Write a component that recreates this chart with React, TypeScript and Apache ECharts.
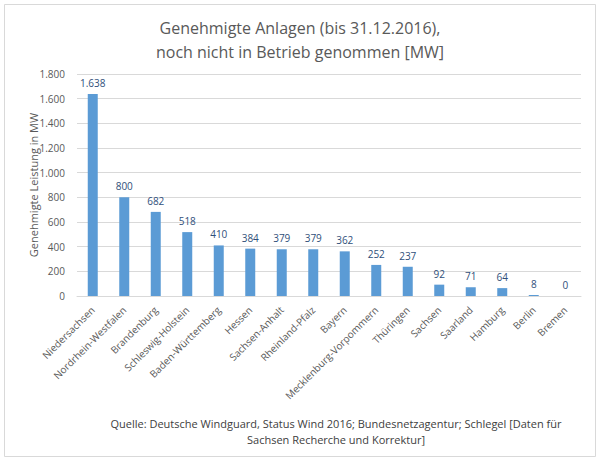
import React, { useEffect, useRef } from "react";
import * as echarts from "echarts";

const categories = [
  "Niedersachsen", "Nordrhein-Westfalen", "Brandenburg", "Schleswig-Holstein",
  "Baden-Württemberg", "Hessen", "Sachsen-Anhalt", "Rheinland-Pfalz", "Bayern",
  "Mecklenburg-Vorpommern", "Thüringen", "Sachsen", "Saarland", "Hamburg", "Berlin", "Bremen",
];
const values = [1638, 800, 682, 518, 410, 384, 379, 379, 362, 252, 237, 92, 71, 64, 8, 0];
const titleLines = ["Genehmigte Anlagen (bis 31.12.2016),", "noch nicht in Betrieb genommen [MW]"];
const yAxisName = "Genehmigte Leistung in MW";
const sourceLines = [
  "Quelle: Deutsche Windguard, Status Wind 2016; Bundesnetzagentur; Schlegel [Daten für",
  "Sachsen Recherche und Korrektur]",
];

const fmt = (v: number) => String(v).replace(/\B(?=(\d{3})+(?!\d))/g, ".");
const FONT = "'Open Sans', 'Noto Sans', sans-serif";

export default function App() {
  const ref = useRef<HTMLDivElement>(null);
  useEffect(() => {
    const chart = echarts.init(ref.current!, null, { renderer: "svg" });
    chart.setOption({
      animation: false,
      backgroundColor: "#ffffff",
      textStyle: { fontFamily: FONT },
      title: {
        text: titleLines.join("\n"),
        left: "center",
        top: 11,
        textStyle: { fontSize: 16, fontWeight: "normal", color: "#595959", lineHeight: 24, fontFamily: FONT },
      },
      grid: { left: 77, right: 19, top: 74, bottom: 166, containLabel: false },
      xAxis: {
        type: "category",
        data: categories,
        axisLine: { lineStyle: { color: "#d9d9d9" } },
        axisTick: { show: false },
        axisLabel: { rotate: 45, color: "#595959", fontSize: 10, interval: 0, margin: 12, fontFamily: FONT },
      },
      yAxis: {
        type: "value",
        min: 0,
        max: 1800,
        interval: 200,
        name: yAxisName,
        nameLocation: "middle",
        nameGap: 38,
        nameMoveOverlap: false,
        nameTextStyle: { color: "#595959", fontSize: 11, fontFamily: FONT },
        axisLine: { show: false },
        axisTick: { show: false },
        axisLabel: { color: "#595959", fontSize: 10, formatter: (v: number) => fmt(v), margin: 12, fontFamily: FONT },
        splitLine: { lineStyle: { color: "#d9d9d9" } },
      },
      series: [
        {
          type: "bar",
          data: values,
          barWidth: 10,
          itemStyle: { color: "#5b9bd5" },
          label: {
            show: true,
            position: "top",
            distance: 6,
            color: "#2f4f7a",
            fontSize: 10,
            fontFamily: FONT,
            formatter: (p: any) => fmt(p.value),
          },
        },
      ],
      graphic: [
        {
          type: "rect",
          shape: { x: 4.5, y: 4.5, width: 591, height: 452 },
          style: { fill: "none", stroke: "#d9d9d9", lineWidth: 1 },
          silent: true,
          z: -1,
        },
        {
          type: "text",
          x: 336,
          y: 415,
          style: {
            text: sourceLines.join("\n"),
            textAlign: "center",
            fontSize: 11,
            lineHeight: 16,
            fill: "#404040",
            fontFamily: FONT,
          },
        },
      ],
    });
    return () => chart.dispose();
  }, []);
  return <div ref={ref} style={{ position: "fixed", left: 0, top: 0, width: 600, height: 462 }} />;
}
